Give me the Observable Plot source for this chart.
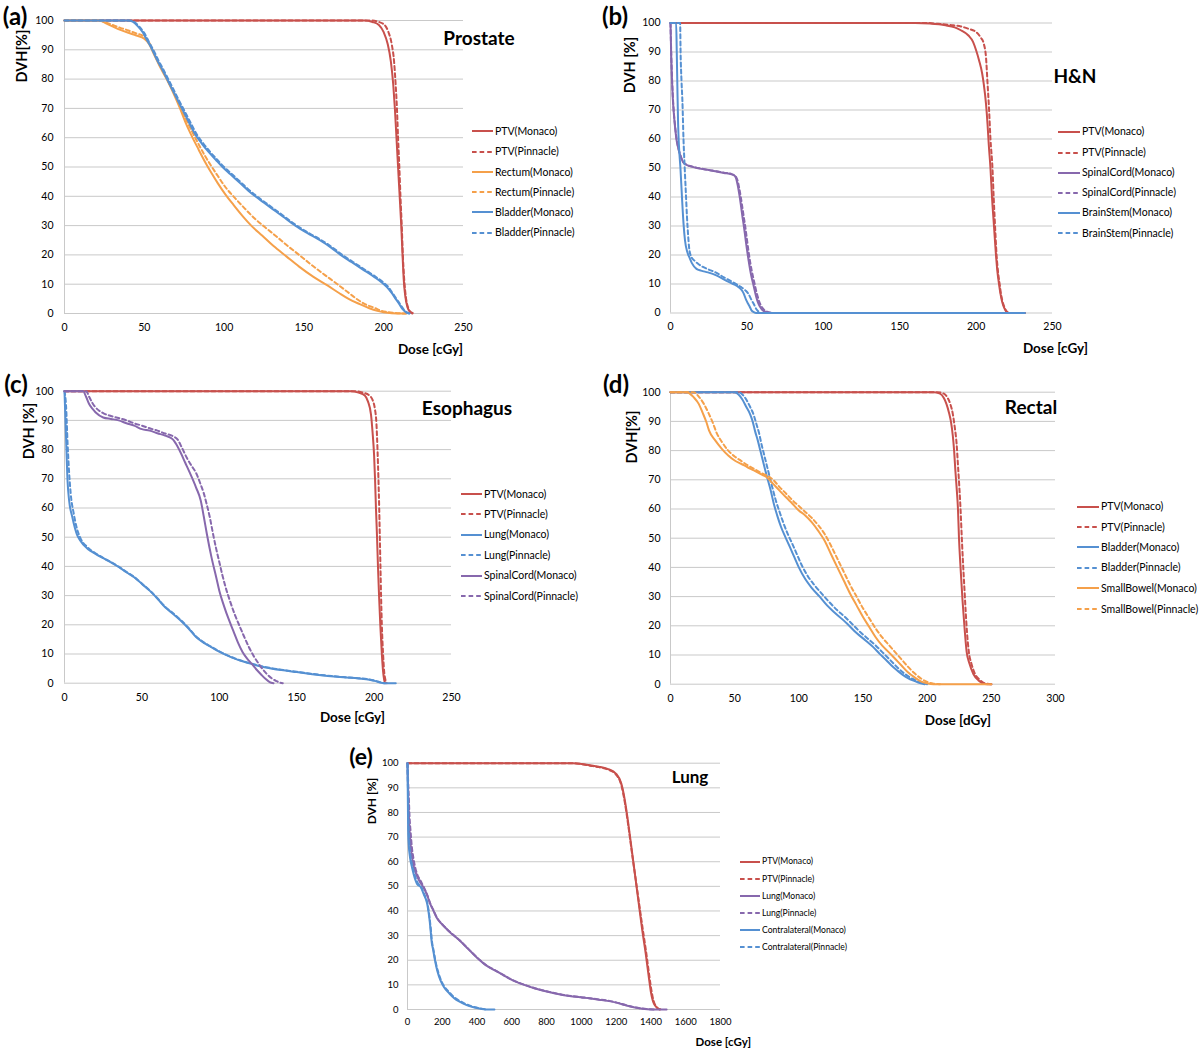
<!DOCTYPE html>
<html><head><meta charset="utf-8">
<script src="https://cdn.jsdelivr.net/npm/d3@7"></script>
<script src="https://cdn.jsdelivr.net/npm/@observablehq/plot@0.6"></script>
<style>
body{margin:0;background:#fff;}
#root{position:relative;width:1200px;height:1050px;overflow:hidden;font-family:Lato,"Open Sans",sans-serif;color:#000;background:#fff;}
.t{position:absolute;white-space:nowrap;line-height:1.15;}
.panel{position:absolute;}
.lg{position:absolute;display:flex;align-items:center;white-space:nowrap;line-height:1;}
</style></head><body><div id="root"></div><script>
// ---------- tick labels ----------
const yTicks = [0,10,20,30,40,50,60,70,80,90,100];
const xTicks250 = [0,50,100,150,200,250];
const xTicks300 = [0,50,100,150,200,250,300];
const xTicks1800 = [0,200,400,600,800,1000,1200,1400,1600,1800];

// ---------- (a) Prostate ----------
const A_PTV_M = [[0,100],[188,100],[193,99.5],[197,98.5],[200,96],[202.5,92],[204.5,86],[206,78],[207,70],[208,60],[209,50],[210,40],[211,30],[211.8,20],[212.5,12],[213.5,6],[215,2],[216.5,0.5],[218,0]];
const A_PTV_P = [[0,100],[192,100],[197,99.5],[200.5,98.5],[203,96],[205,92],[206.5,86],[207.5,78],[208.3,70],[209,60],[209.8,50],[210.5,40],[211.3,30],[212,20],[212.8,12],[213.8,6],[215.3,2],[217,0.5],[219.5,0]];
const A_REC_M = [[0,100],[22,100],[26,99],[30,98],[35,96.8],[40,95.8],[45,94.9],[50,93.8],[53,92],[56,88.5],[60,84],[64,80],[68,75.5],[72,70.5],[76,65],[80,60.3],[84,56],[88,51.8],[92,48],[96,44.5],[101,40.5],[106,37],[112,33],[117,30],[124,26.5],[131,23],[139,19.5],[147,16],[156,12.5],[165,9.5],[172,7],[178,5],[185,3.2],[191,1.8],[196,0.9],[200,0.4],[205,0.1],[214,0]];
const A_REC_P = [[0,100],[22,100],[26,99.3],[30,98.5],[35,97.5],[40,96.6],[45,95.6],[50,94.5],[53,92.5],[56,89],[60,84.5],[64,80.3],[68,76],[72,71.3],[76,66.5],[80,62],[84,57.8],[88,53.8],[92,50.3],[96,47],[101,43],[107,39.3],[113,35.8],[119,32.5],[125.5,29.5],[133,26.2],[140,23],[147,20],[155,16.5],[163,13.2],[171,10],[177,7.5],[183,5],[189,3],[194,2],[198,1],[202,0.5],[207,0.2],[214,0]];
const A_BLA_M = [[0,100],[40,100],[43,99.5],[46,98],[49,96],[52,93],[55,90],[58,86.5],[61,83.5],[64,80.3],[67,77],[70,73.8],[74,69.5],[78,65.2],[82,61],[86,58],[90,55.3],[95,52.3],[99,50],[104,47.5],[110,44.5],[115,42],[119.5,40],[125,37.8],[130,35.8],[137,33],[144.6,30],[152,27.5],[160,25],[167,22.5],[173,20],[180,17.5],[187,15],[194,12.5],[199,10.5],[202,9],[205,7],[207.5,5],[210,3],[212,1.4],[214,0.4],[216,0]];
const A_BLA_P = [[0,100],[41,100],[44,99.4],[47,97.8],[50,95.7],[53,92.6],[56,89.6],[59,86.2],[62,83.2],[65,80],[68,76.8],[71,73.5],[75,69.3],[79,65.1],[83,61],[87,58],[91,55.3],[96,52.3],[100,50],[105,47.5],[111,44.5],[116,42],[120.5,40],[126,37.8],[131,35.8],[138,33],[145.5,30],[153,27.5],[161,25],[168,22.5],[174,20],[181,17.5],[188,15],[195,12.5],[200,10.5],[203,9],[205.5,7],[208,5],[210.5,3],[212.5,1.4],[214.5,0.4],[216.5,0]];
const A_NAMES = ["PTV(Monaco)","PTV(Pinnacle)","Rectum(Monaco)","Rectum(Pinnacle)","Bladder(Monaco)","Bladder(Pinnacle)"];

// ---------- (b) H&N ----------
const B_PTV_M = [[0,100],[160,100],[170,99.8],[180,99.2],[186,98.5],[190,97.5],[195,95.7],[198,93.5],[200,90.6],[202,87],[204,82.5],[205,79],[206.5,72],[207.5,65],[208.3,58],[209.4,50],[210.4,40],[211.7,30],[213,20],[214,14],[215,10],[216,6.5],[217,4],[218,2.3],[219,1.1],[220,0.3],[221,0],[232,0]];
const B_PTV_P = [[0,100],[168,100],[175,99.7],[185,99.2],[190,98.8],[195,98],[200,96.9],[203,95],[205,92.9],[206.5,88],[207.4,80],[208.5,70],[209.4,60],[210.7,50],[211.5,40],[212.4,30],[213.4,20],[214.4,14],[215.4,10],[216.3,6.5],[217.3,4],[218.3,2.3],[219.3,1.1],[220.5,0.3],[222,0]];
const B_SC_M = [[0,100],[0.5,88],[1,80],[1.5,74],[2,70],[3,64],[4,59.5],[5,57],[6,55],[7,53.5],[8,52.2],[10,51.2],[15,50.3],[20,49.7],[25,49.3],[30,48.8],[35,48.3],[40,47.8],[42,47.3],[43,46.3],[44,44],[45,41],[46,37.5],[47,33.5],[48,30],[49,26],[50,22],[51,18.5],[52,15.2],[53,12.5],[54,10.3],[55,8],[56,5.8],[57,4],[58,2.7],[59,1.8],[60,1.1],[62,0.4],[65,0.1],[68,0]];
const B_SC_P = [[0,100],[0.5,89],[1,81],[1.5,75],[2,70.5],[3,64.5],[4,60],[5,57.2],[6,55.2],[7,53.6],[8,52.3],[10,51.3],[15,50.4],[20,49.8],[25,49.3],[30,48.9],[35,48.4],[40,47.9],[42,47.4],[43,46.8],[44,45.5],[45,43],[46,40],[47,36.5],[48,33],[49,29.5],[50,25.5],[51,21.5],[52,18],[53,15],[54,12.5],[55,10.2],[56,7.8],[57,5.8],[58,4],[59,2.8],[60,1.9],[61,1.2],[63,0.5],[66,0.1],[70,0]];
const B_BS_M = [[0,100],[3.7,100],[4.1,90],[4.6,75],[5,65],[5.5,58],[6.5,50],[7.5,40],[8.5,31],[9.5,25],[11,21],[12.5,19],[14,17.2],[17,15.2],[20,14.6],[24.5,14],[30,13],[37,11],[41,10],[44.6,8.9],[47,7.6],[48,6.6],[49.5,4.5],[51,3],[52,2],[53,0.9],[54.5,0.3],[56,0],[232,0]];
const B_BS_P = [[0,100],[6.3,100],[6.6,90],[7.2,80],[7.8,73],[8.5,60],[9.3,50],[10,42],[10.8,33],[11.5,27],[12.3,22],[13.5,19.5],[15.8,18],[18,17],[20.8,16],[25,15],[29.5,14],[35,12.3],[39.6,11],[43,10],[46,9],[49,7.8],[51,6.6],[53,4.5],[54.6,3],[56,1.5],[57,0.8],[58.4,0]];
const B_NAMES = ["PTV(Monaco)","PTV(Pinnacle)","SpinalCord(Monaco)","SpinalCord(Pinnacle)","BrainStem(Monaco)","BrainStem(Pinnacle)"];

// ---------- (c) Esophagus ----------
const C_PTV_M = [[0,100],[185,100],[190,99.5],[194,98.5],[196,96.5],[198,92],[199,86],[200,78],[200.6,70],[201.2,60],[201.9,50],[202.5,40],[203.2,30],[204,20],[205,10],[205.8,4],[206.5,1.2],[207.2,0]];
const C_PTV_P = [[0,100],[188,100],[193,99.5],[197,98.5],[199,97],[200.5,94],[201.5,89],[202.2,80],[202.8,70],[203.3,60],[203.7,50],[204.1,40],[204.5,30],[205,20],[205.8,10],[206.5,4],[207.3,1.2],[208.2,0]];
const C_LUNG_M = [[0,100],[0.5,92],[1,84],[2,69],[3,62.5],[5,57],[8,51],[10,49],[15,46],[20,44.3],[25,42.8],[30,41.4],[35,39.8],[40,38],[45,36.3],[50,34],[55,31.7],[60,29],[65,26],[70,23.8],[75,21.5],[80,18.8],[85,15.8],[90,13.8],[95,12.3],[100,10.8],[105,9.5],[110,8.4],[115,7.5],[120,6.7],[125,6],[130,5.4],[140,4.5],[150,3.8],[160,3.1],[170,2.5],[180,2],[190,1.6],[197,1.2],[201,0.7],[204,0.2],[206,0],[214,0]];
const C_LUNG_P = [[0,100],[1,95],[2,82],[3,72],[4,65],[6,58],[8,53],[10,50],[15,46.5],[20,44.5],[25,42.9],[30,41.5],[35,39.9],[40,38.1],[45,36.4],[50,34.1],[55,31.8],[60,29.1],[65,26.2],[70,24],[75,21.7],[80,19],[85,16],[90,14],[95,12.4],[100,10.9],[105,9.6],[110,8.5],[115,7.6],[120,6.8],[125,6.1],[130,5.5],[140,4.6],[150,3.9],[160,3.2],[170,2.6],[180,2.1],[190,1.7],[197,1.3],[201,0.8],[204,0.3],[207,0]];
const C_SC_M = [[0,100],[12,100],[14,98],[16,95.5],[18,94],[20,92.8],[25,91],[30,90.5],[35,90],[40,89],[45,88.2],[50,87],[55,86.5],[60,85.6],[65,84.8],[70,83.5],[72,82],[75,79],[78,75.5],[81,72],[85,67],[88,62.6],[90,57],[92,51],[95,43],[98,36.3],[100,31.7],[103,26.5],[106,22],[109,18],[112,14],[115,10.7],[118,8.4],[121,6.6],[124,4.7],[127,3],[130,1.4],[132.5,0.4],[135,0]];
const C_SC_P = [[0,100],[14,100],[16,98],[18,96],[20,94.5],[25,92.5],[30,91.5],[35,90.8],[40,90],[45,89],[50,88.2],[55,87.3],[60,86.5],[65,85.5],[70,84.6],[73,83.5],[76,80.5],[79,77.2],[82,74.5],[85,72],[88,68],[90,65],[92,61],[94,56.5],[96,51],[98,46],[100,41.5],[102,37],[104,33],[107,28],[110,23.5],[113,19.7],[116,16],[119,12.5],[122,9.5],[125,7],[128,4.8],[131,3],[134,1.6],[137,0.7],[139,0.2],[141,0]];
const C_NAMES = ["PTV(Monaco)","PTV(Pinnacle)","Lung(Monaco)","Lung(Pinnacle)","SpinalCord(Monaco)","SpinalCord(Pinnacle)"];

// ---------- (d) Rectal ----------
const D_PTV_M = [[0,100],[205,100],[210,99.5],[213,98],[215,96],[217,93],[218.5,90],[220,85],[221,80],[222,73],[223,67],[224,60],[224.8,50],[226,40],[227.5,29],[229,20],[230.8,11],[233,7],[236,3.5],[240,1.3],[245,0.1],[250,0]];
const D_PTV_P = [[0,100],[208,100],[213,99.5],[216,98],[218,96],[220,92.5],[221.5,88],[223,82],[224,75],[225,68],[226,60],[227,50],[228,41],[229,33],[230,25],[231,18],[232.5,11],[234.5,7],[237,3.8],[241,1.5],[246,0.2],[251,0]];
const D_BLA_M = [[0,100],[50,100],[53,99.2],[56,97.5],[59,95],[62,92.5],[64,90],[66,86.5],[68,83.5],[70,80],[72,76.5],[74,73],[75.5,70.5],[78,66.5],[80.5,61.8],[83,58],[86,54],[89.6,50.3],[93,47],[96.5,43.5],[100,40],[105,36],[110,33],[116.6,29.8],[122,27],[128,24.5],[134,22.2],[137.7,20.7],[145,17.5],[152,15],[158,12.7],[163,10.4],[168,8.3],[172,6.5],[176.7,4.7],[181,3.2],[185,2.1],[188.8,1.3],[193,0.6],[198,0]];
const D_BLA_P = [[0,100],[53,100],[56,99.2],[59,97.5],[62,95],[65,92],[67,89],[69,86],[71,82],[73,78.5],[75,75],[77,71.5],[79,68],[82,63],[85,59],[88,55.2],[91.5,51.3],[95,48],[98.5,44.5],[102,41],[107,37],[112,34],[118.5,30.7],[124,28],[130,25.3],[136,23],[140,21.3],[147,18.2],[154,15.5],[160,13.2],[165,11],[170,8.8],[174,7],[178.5,5],[183,3.4],[187,2.2],[191,1.3],[195,0.6],[200,0]];
const D_SB_M = [[0,100],[13,100],[15,99.5],[18,98.3],[22,96],[25,93],[28,89.7],[30,86.9],[35,83.4],[40,80.6],[45,78.3],[50,76.6],[55,75.5],[60,74.3],[65,73.2],[70,72],[75,70.9],[80,68.6],[85,66.3],[90,64],[95,61.8],[100,59.5],[105,57.8],[110,55.5],[115,52.6],[120,49.2],[125,44.6],[130,40],[135,35.5],[140,31],[145,27],[150,23],[155,19.5],[160,16],[165,13.2],[170,11],[175,8.7],[180,6.4],[185,4.1],[190,2.4],[195,1],[200,0.3],[205,0],[250,0]];
const D_SB_P = [[0,100],[18,100],[22,98.5],[26,96],[30,92.5],[33,89.5],[36,86],[40,83],[45,80],[50,78],[55,76.5],[60,75],[65,73.8],[70,72.5],[75,71.5],[80,70],[85,67.5],[90,65.3],[95,63],[100,61],[105,59],[110,57],[115,54.5],[120,51.5],[125,47.5],[130,43],[135,38.5],[140,34],[145,30],[150,26],[155,22.5],[160,19],[165,16],[170,13.5],[175,11],[180,8.5],[185,6],[190,3.8],[195,2],[200,0.8],[205,0.2],[210,0]];
const D_NAMES = ["PTV(Monaco)","PTV(Pinnacle)","Bladder(Monaco)","Bladder(Pinnacle)","SmallBowel(Monaco)","SmallBowel(Pinnacle)"];

// ---------- (e) Lung ----------
const E_PTV_M = [[0,100],[950,100],[1000,99.7],[1050,99.2],[1100,98.6],[1150,97.7],[1200,95.7],[1230,91.6],[1250,84.9],[1270,75.4],[1290,64.6],[1310,53.8],[1330,43],[1350,32.2],[1370,22.7],[1390,11.9],[1400,7],[1410,3.8],[1420,2],[1430,1.1],[1440,0.4],[1450,0]];
const E_PTV_P = [[0,100],[960,100],[1000,99.6],[1050,99],[1100,98.4],[1150,97.5],[1200,95.3],[1230,91],[1250,84],[1270,74.5],[1290,64],[1310,54],[1330,44],[1350,34],[1370,24.5],[1390,14],[1400,9],[1410,5],[1420,2.5],[1430,1.3],[1440,0.5],[1455,0.1],[1465,0]];
const E_LUNG_M = [[0,100],[3,90],[6,82],[10,75],[15,69],[20,65],[30,60],[40,57],[50,55],[70,52],[100,48.5],[115,46],[130,43],[150,40],[170,37],[200,34.5],[250,31],[300,28],[350,24.5],[400,21],[450,18],[500,16],[550,14],[600,12],[650,10.5],[700,9.3],[750,8.2],[800,7.3],[850,6.5],[900,5.8],[950,5.3],[1000,4.9],[1050,4.5],[1100,4],[1150,3.5],[1200,2.8],[1250,1.8],[1300,0.9],[1350,0.3],[1400,0],[1490,0]];
const E_LUNG_P = [[0,100],[4,92],[8,85],[12,78],[18,72],[25,66],[35,61],[45,57.5],[55,55],[75,52.3],[100,48.7],[115,46.2],[130,43.2],[150,40.2],[170,37.2],[200,34.6],[250,31.1],[300,28.1],[350,24.6],[400,21.1],[450,18.1],[500,16.1],[550,14.1],[600,12.1],[650,10.6],[700,9.4],[750,8.3],[800,7.4],[850,6.6],[900,5.9],[950,5.4],[1000,5],[1050,4.6],[1100,4.1],[1150,3.6],[1200,2.9],[1250,1.9],[1300,1],[1350,0.4],[1400,0.1],[1420,0]];
const E_CON_M = [[0,100],[2,85],[4,72],[8,66],[14,62],[25,58],[35,55],[55,51],[76,49.7],[95,46.5],[113,43],[120,40],[127.5,36],[133,32],[138,28],[148,24],[158,20],[172,15.5],[189,11.9],[210,9],[241,6.5],[270,4.5],[302,3.1],[340,1.8],[385,0.8],[420,0.3],[447,0],[500,0]];
const E_CON_P = [[0,100],[3,88],[6,76],[10,68],[16,63],[27,58.5],[38,55.5],[58,51.5],[80,49.5],[98,46.5],[115,43],[122,40],[129,36],[135,32],[140,28],[150,24],[160,20],[174,15.8],[191,12.2],[212,9.3],[243,6.8],[272,4.8],[305,3.3],[343,2],[388,0.9],[425,0.35],[455,0]];
const E_NAMES = ["PTV(Monaco)","PTV(Pinnacle)","Lung(Monaco)","Lung(Pinnacle)","Contralateral(Monaco)","Contralateral(Pinnacle)"];

// ---------- drawing ----------
const RED="#c8504c", ORANGE="#f5a04a", BLUE="#5590d2", PURPLE="#8768ad", GRID="#c9c9c9";
const root=document.getElementById("root");
const FONT='Lato,"Open Sans",sans-serif';

function txt(s,cx,cy,size,weight,rot,anchor){
  const d=document.createElement("div");d.className="t";d.textContent=s;
  d.style.left=cx+"px";d.style.top=cy+"px";d.style.fontSize=size+"px";d.style.fontWeight=weight;
  const tx = anchor==="end" ? "-100%" : (anchor==="start" ? "0" : "-50%");
  d.style.transform=`translate(${tx},-50%)`+(rot?" rotate(-90deg)":"");
  root.appendChild(d);
}

function legend(names,series,x,ys,len,size){
  names.forEach((n,i)=>{
    const s=series[i];
    const d=document.createElement("div");d.className="lg";
    d.style.left=x+"px";d.style.top=(ys[i]-8)+"px";d.style.height="16px";d.style.fontSize=size+"px";
    d.innerHTML=`<svg width="${len}" height="4" style="display:block"><line x1="0" y1="2" x2="${len}" y2="2" stroke="${s.color}" stroke-width="2" ${s.dash?'stroke-dasharray="4.6,3"':''}/></svg><span style="margin-left:2px">${n}</span>`;
    root.appendChild(d);
  });
}

function panel(c){
  const marks=[
    Plot.gridY(yTicks,{stroke:GRID,strokeOpacity:1,strokeWidth:1}),
    Plot.ruleX([0],{stroke:GRID,strokeWidth:1}),
  ];
  c.series.forEach(s=>marks.push(Plot.line(s.data,{x:d=>d[0],y:d=>d[1],stroke:s.color,strokeWidth:2,strokeDasharray:s.dash?"4,3":undefined,curve:"monotone-x"})));
  marks.push(Plot.axisX(c.xTicks,{anchor:"bottom",tickSize:0,tickPadding:c.xPad,label:null,tickFormat:d=>String(d)}));
  marks.push(Plot.axisY(yTicks,{anchor:"left",tickSize:0,tickPadding:c.yPad,label:null,tickFormat:d=>String(d)}));
  const svg=Plot.plot({
    width:c.w,height:c.h,
    marginLeft:c.mL,marginRight:c.mR,marginTop:c.mT,marginBottom:c.mB,
    x:{domain:c.xDomain},y:{domain:[0,100]},
    style:{fontFamily:FONT,fontSize:c.fs+"px",color:"#000",background:"transparent",overflow:"visible"},
    marks
  });
  const wrap=document.createElement("div");wrap.className="panel";
  wrap.style.left=c.left+"px";wrap.style.top=c.top+"px";
  wrap.appendChild(svg);root.appendChild(wrap);
}

const S=(data,color,dash)=>({data,color,dash});
const seriesA=[S(A_PTV_M,RED,0),S(A_PTV_P,RED,1),S(A_REC_M,ORANGE,0),S(A_REC_P,ORANGE,1),S(A_BLA_M,BLUE,0),S(A_BLA_P,BLUE,1)];
const seriesB=[S(B_PTV_M,RED,0),S(B_PTV_P,RED,1),S(B_SC_M,PURPLE,0),S(B_SC_P,PURPLE,1),S(B_BS_M,BLUE,0),S(B_BS_P,BLUE,1)];
const seriesC=[S(C_PTV_M,RED,0),S(C_PTV_P,RED,1),S(C_LUNG_M,BLUE,0),S(C_LUNG_P,BLUE,1),S(C_SC_M,PURPLE,0),S(C_SC_P,PURPLE,1)];
const seriesD=[S(D_PTV_M,RED,0),S(D_PTV_P,RED,1),S(D_BLA_M,BLUE,0),S(D_BLA_P,BLUE,1),S(D_SB_M,ORANGE,0),S(D_SB_P,ORANGE,1)];
const seriesE=[S(E_PTV_M,RED,0),S(E_PTV_P,RED,1),S(E_LUNG_M,PURPLE,0),S(E_LUNG_P,PURPLE,1),S(E_CON_M,BLUE,0),S(E_CON_P,BLUE,1)];

panel({left:0,top:0,w:470,h:345,mL:64,mR:7,mT:20,mB:32,xDomain:[0,250],xTicks:xTicks250,series:seriesA,fs:10.5,xPad:10,yPad:11});
panel({left:600,top:0,w:460,h:345,mL:70,mR:8,mT:22.5,mB:32.5,xDomain:[0,250],xTicks:xTicks250,series:seriesB,fs:10.5,xPad:10,yPad:10});
panel({left:0,top:370,w:460,h:345,mL:64,mR:9,mT:20.7,mB:32.3,xDomain:[0,250],xTicks:xTicks250,series:seriesC,fs:10.5,xPad:10,yPad:11});
panel({left:600,top:370,w:470,h:345,mL:70,mR:15,mT:21.7,mB:31.3,xDomain:[0,300],xTicks:xTicks300,series:seriesD,fs:10.5,xPad:10,yPad:10});
panel({left:330,top:740,w:400,h:300,mL:77,mR:10,mT:22.7,mB:31,xDomain:[0,1800],xTicks:xTicks1800,series:seriesE,fs:9.5,xPad:9,yPad:9});

// legends
legend(A_NAMES,seriesA,472,[131,151.5,172,192,212,232.5],21,10.5);
legend(B_NAMES,seriesB,1058,[131.7,152.7,172.7,192.7,212.7,233.3],22,10.5);
legend(C_NAMES,seriesC,461,[494,514,534.7,555.3,575.7,596],21,10.5);
legend(D_NAMES,seriesD,1077,[506.7,527.3,547.3,567.7,588.3,609],22,10.5);
legend(E_NAMES,seriesE,740,[861.7,879,896,913,930,947],20,8.6);

// panel letters
txt("(a)",15,16,24,700);
txt("(b)",615,16,24,700);
txt("(c)",16,384,24,700);
txt("(d)",616,384,24,700);
txt("(e)",361,756,23,700);
// titles
txt("Prostate",479,38,19,700);
txt("H&N",1075,76,19,700);
txt("Esophagus",467,408,19,700);
txt("Rectal",1031,407,19,700);
txt("Lung",690,777,17,700);
// y labels
txt("DVH[%]",21.5,56,14.5,700,true);
txt("DVH [%]",630,65,14.5,700,true);
txt("DVH [%]",29,431,14.5,700,true);
txt("DVH[%]",632,437,14.5,700,true);
txt("DVH [%]",372,801,12,700,true);
// x labels
txt("Dose [cGy]",463,350,13.5,700,false,"end");
txt("Dose [cGy]",1088,349,13.5,700,false,"end");
txt("Dose [cGy]",385,718,13.5,700,false,"end");
txt("Dose [dGy]",991,721,13.5,700,false,"end");
txt("Dose [cGy]",751,1042,11.5,700,false,"end");
</script></body></html>
